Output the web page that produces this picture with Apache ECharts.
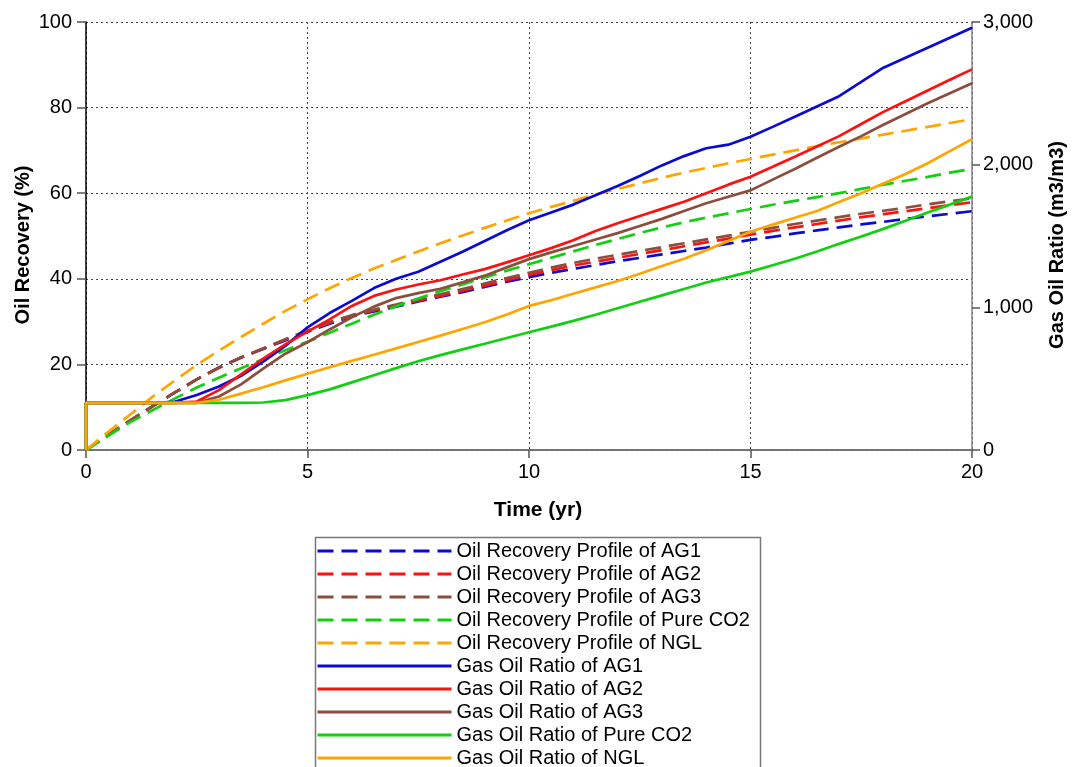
<!DOCTYPE html>
<html>
<head>
<meta charset="utf-8">
<script src="https://cdn.jsdelivr.net/npm/echarts@6/dist/echarts.min.js"></script>
<style>
html,body{margin:0;padding:0;background:#fff;}
#chart{width:1073px;height:767px;}
</style>
</head>
<body>
<div id="chart"></div>
<script>
// Time (yr) — first 0 repeated so GOR curves can start with a vertical step
const times = [0,0,0.5,1,1.5,2,2.5,3,3.5,4,4.5,5,5.5,6,6.5,7,7.5,8,8.5,9,9.5,10,10.5,11,11.5,12,12.5,13,13.5,14,14.5,15,15.5,16,16.5,17,17.5,18,18.5,19,19.5,20];

// Oil recovery (%)
const orAG1 = [0,0,3.5,6.9,10.2,13.4,16.5,19.3,21.6,23.6,25.6,27.6,29.5,31.2,32.4,33.5,34.7,35.8,36.9,38.1,39.3,40.4,41.4,42.3,43.2,44.1,44.9,45.7,46.5,47.3,48.2,49.1,49.8,50.6,51.3,52.0,52.7,53.3,54.0,54.6,55.2,55.8];
const orAG2 = [0,0,3.5,6.9,10.2,13.4,16.5,19.2,21.6,23.7,25.8,27.8,29.7,31.3,32.6,33.8,34.9,36.0,37.2,38.4,39.7,40.9,42.0,43.1,44.0,44.9,45.8,46.7,47.6,48.5,49.4,50.3,51.2,52.0,52.8,53.6,54.4,55.1,55.8,56.5,57.2,57.9];
const orAG3 = [0,0,3.5,6.9,10.2,13.4,16.5,19.2,21.6,23.7,25.9,27.9,29.9,31.5,32.8,34.0,35.2,36.4,37.6,38.9,40.2,41.4,42.6,43.7,44.7,45.6,46.5,47.4,48.3,49.2,50.1,51.0,51.9,52.8,53.6,54.4,55.2,55.9,56.6,57.4,58.1,58.8];
const orCO2 = [0,0,3.3,6.5,9.3,12.0,14.6,16.9,19.1,21.2,23.3,25.3,27.4,29.5,31.6,33.6,35.4,37.1,38.7,40.3,41.9,43.4,44.9,46.4,47.9,49.3,50.7,52.0,53.2,54.3,55.3,56.3,57.3,58.2,59.1,60.0,61.0,62.0,62.9,63.8,64.8,65.7];
const orNGL = [0,0,4.2,8.3,12.4,16.2,19.9,23.2,26.4,29.5,32.5,35.2,37.8,40.2,42.4,44.4,46.4,48.3,50.1,51.9,53.6,55.3,56.8,58.2,59.7,61.0,62.3,63.6,64.8,65.9,67.0,68.0,69.0,70.0,71.0,71.9,72.8,73.7,74.6,75.5,76.4,77.3];

// Gas oil ratio (m3/m3)
const gorAG1 = [0,330,330,330,330,338,385,445,520,620,730,860,960,1045,1135,1200,1250,1320,1390,1465,1540,1610,1665,1720,1785,1850,1920,1995,2060,2115,2140,2195,2265,2336,2408,2480,2580,2680,2750,2820,2890,2960];
const gorAG2 = [0,330,330,330,330,330,340,420,530,640,740,830,915,1010,1080,1125,1160,1190,1230,1268,1315,1365,1415,1470,1535,1590,1640,1690,1740,1800,1860,1915,1985,2056,2128,2200,2285,2370,2445,2520,2595,2668];
const gorAG3 = [0,330,330,330,330,330,330,375,460,570,675,755,845,930,1005,1065,1100,1130,1175,1222,1280,1338,1385,1430,1475,1520,1570,1620,1675,1730,1775,1820,1895,1970,2048,2125,2200,2280,2355,2430,2500,2570];
const gorCO2 = [0,330,330,330,330,330,330,330,330,333,350,385,425,474,524,574,622,665,705,745,785,825,865,905,948,994,1039,1084,1129,1174,1212,1250,1295,1340,1392,1445,1497,1550,1607,1665,1720,1776];
const gorNGL = [0,330,330,330,330,330,330,352,395,440,488,535,580,625,668,712,757,802,848,895,950,1010,1050,1095,1140,1185,1235,1290,1340,1400,1465,1530,1580,1628,1675,1738,1800,1868,1935,2010,2095,2178];

const names = [
  'Oil Recovery Profile of AG1','Oil Recovery Profile of AG2','Oil Recovery Profile of AG3',
  'Oil Recovery Profile of Pure CO2','Oil Recovery Profile of NGL',
  'Gas Oil Ratio of AG1','Gas Oil Ratio of AG2','Gas Oil Ratio of AG3',
  'Gas Oil Ratio of Pure CO2','Gas Oil Ratio of NGL'
];
const colors = ['#0a0ad2','#ff1010','#8c4e3c','#10d010','#ffa500'];

const pair = arr => times.map((t,i)=>[t,arr[i]]);
const dashSets = [orAG1,orAG2,orAG3,orCO2,orNGL];
const solidSets = [gorAG1,gorAG2,gorAG3,gorCO2,gorNGL];

const series = [];
dashSets.forEach((d,i)=>series.push({
  name:names[i], type:'line', yAxisIndex:0, data:pair(d), symbol:'none',
  lineStyle:{color:colors[i], width:2.7, type:[16,8]}, itemStyle:{color:colors[i]},
  animation:false
}));
solidSets.forEach((d,i)=>series.push({
  name:names[5+i], type:'line', yAxisIndex:1, data:pair(d), symbol:'none',
  lineStyle:{color:colors[i], width:2.7, type:'solid'}, itemStyle:{color:colors[i]},
  animation:false
}));

const FONT = 'Liberation Sans, Arial, sans-serif';
const chart = echarts.init(document.getElementById('chart'), null, {renderer:'canvas'});
chart.setOption({
  backgroundColor:'#ffffff',
  animation:false,
  textStyle:{fontFamily:FONT, color:'#000'},
  grid:{left:86, right:101, top:22, bottom:317, containLabel:false, outerBoundsMode:'none'},
  xAxis:[{
    type:'value', min:0, max:20, interval:5,
    name:'Time (yr)', nameLocation:'middle', nameGap:50, nameMoveOverlap:false,
    nameTextStyle:{fontFamily:FONT, fontSize:21, fontWeight:'bold', color:'#000', padding:[0,0,0,18]},
    axisLine:{show:true, onZero:false, lineStyle:{color:'#222', width:1.5}},
    axisTick:{show:true, inside:false, length:8, lineStyle:{color:'#555', width:1.5}},
    axisLabel:{fontFamily:FONT, fontSize:20, color:'#000', margin:12},
    splitLine:{show:true, lineStyle:{color:'#444', width:1, type:[2,3]}}
  },{
    type:'value', min:0, max:20, position:'top',
    axisLine:{show:true, lineStyle:{color:'#808080', width:1.5}},
    axisTick:{show:false}, axisLabel:{show:false}, splitLine:{show:false}
  }],
  yAxis:[{
    type:'value', min:0, max:100, interval:20, position:'left',
    name:'Oil Recovery (%)', nameLocation:'middle', nameGap:53, nameRotate:90, nameMoveOverlap:false,
    nameTextStyle:{fontFamily:FONT, fontSize:20, fontWeight:'bold', color:'#000', padding:[0,18,0,0]},
    axisLine:{show:true, onZero:false, lineStyle:{color:'#000', width:1.5}},
    axisTick:{show:true, inside:false, length:9, lineStyle:{color:'#555', width:1.5}},
    axisLabel:{fontFamily:FONT, fontSize:20, color:'#000', margin:14},
    splitLine:{show:true, lineStyle:{color:'#444', width:1, type:[2,3]}}
  },{
    type:'value', min:0, max:3000, interval:1000, position:'right',
    name:'Gas Oil Ratio (m3/m3)', nameLocation:'middle', nameGap:75, nameRotate:90, nameMoveOverlap:false,
    nameTextStyle:{fontFamily:FONT, fontSize:20, fontWeight:'bold', color:'#000', padding:[0,18,0,0]},
    axisLine:{show:true, onZero:false, lineStyle:{color:'#808080', width:1.5}},
    axisTick:{show:true, inside:false, length:8, lineStyle:{color:'#555', width:1.5}},
    axisLabel:{fontFamily:FONT, fontSize:20, color:'#000', margin:11,
      formatter:v=>v.toLocaleString('en-US')},
    splitLine:{show:false}
  }],
  legend:{
    orient:'vertical', left:316, top:541, padding:0, height:260,
    itemWidth:134, itemHeight:14, itemGap:3,
    selectedMode:false, data:names,
    itemStyle:{opacity:0},
    lineStyle:{width:3},
    textStyle:{fontFamily:FONT, fontSize:20, color:'#000'}
  },
  graphic:[{
    type:'rect', left:313, top:535, silent:true,
    shape:{width:445, height:240},
    style:{fill:'none', stroke:'#777', lineWidth:1.5}
  }],
  series:series
});
</script>
</body>
</html>
